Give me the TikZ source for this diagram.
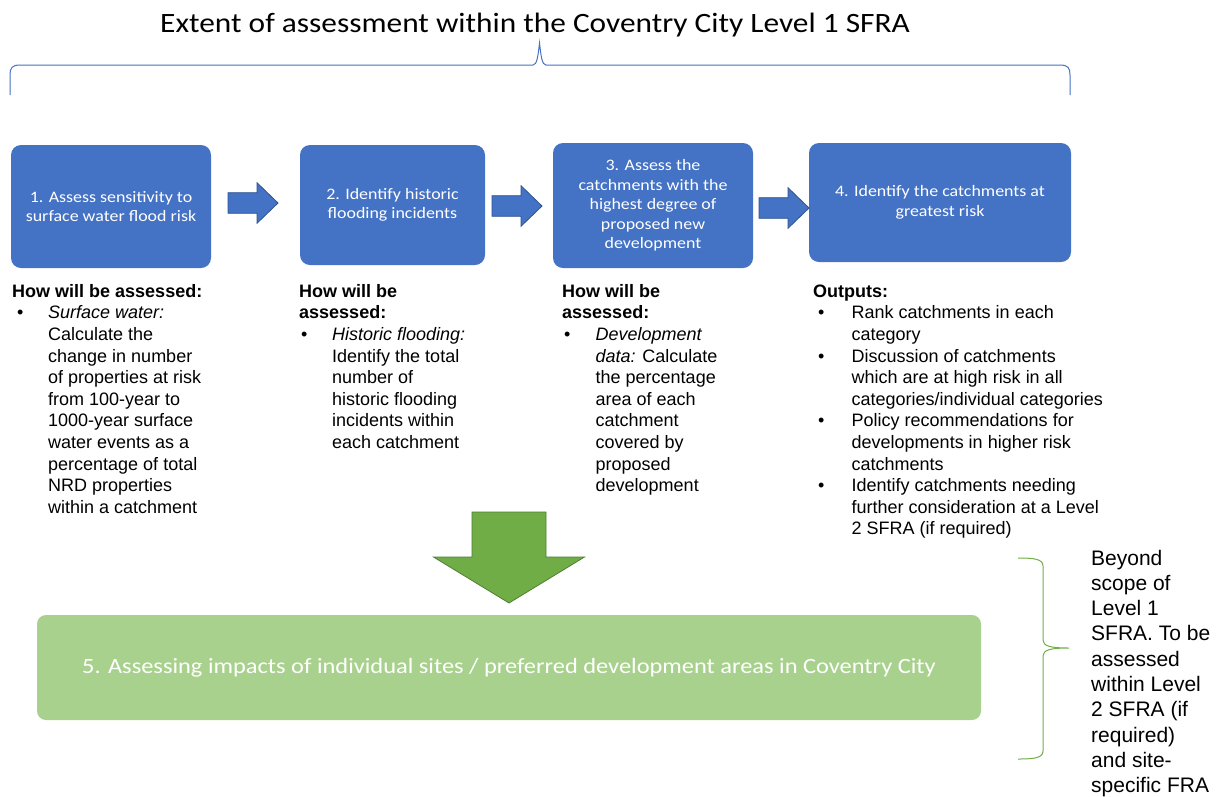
\documentclass[tikz,border=0pt]{standalone}
\usepackage{fontspec}
\newfontfamily\carlito[FakeStretch=1.12]{Carlito}
\newfontfamily\arialf{Liberation Sans}
\usepackage{array}
\definecolor{boxblue}{HTML}{4472C4}
\definecolor{arrowedge}{HTML}{2F528F}
\definecolor{arrowgreen}{HTML}{70AD47}
\definecolor{arrowgreenedge}{HTML}{507E32}
\definecolor{boxgreen}{HTML}{A9D18E}
\newcommand{\lns}[1]{\begin{tabular}[t]{@{}l@{}}#1\end{tabular}}
\tikzset{
  bluebox/.style={rounded corners=10pt, fill=boxblue, text=white, align=center, inner sep=0pt,
    font=\carlito\fontsize{16}{19.5}\selectfont},
  greenbox/.style={rounded corners=9pt, fill=boxgreen, text=white, align=center, inner sep=0pt,
    font=\carlito\fontsize{21.8}{26}\selectfont},
  bodytext/.style={anchor=base west, inner sep=0pt, font=\arialf\fontsize{18}{21.6}\selectfont},
  sidetext/.style={anchor=base west, inner sep=0pt, font=\arialf\fontsize{21}{25.3}\selectfont},
  arrowfill/.style={fill=boxblue, draw=arrowedge, line width=0.8pt, line join=miter},
  greenarrow/.style={fill=arrowgreen, draw=arrowgreenedge, line width=0.8pt},
  bluebrace/.style={draw=boxblue, line width=1pt},
  greenbrace/.style={draw=arrowgreen, line width=1pt},
  rarrow/.pic={\path[arrowfill] (0,-10.3) -- (29,-10.3) -- (29,-20.3) -- (50,0) -- (29,20.3) -- (29,10.3) -- (0,10.3) -- cycle;}
}
\begin{document}
\begin{tikzpicture}[x=1pt,y=-1pt]
\useasboundingbox (0,0) rectangle (1229,796);

% title
\node[font=\carlito\fontsize{28}{32}\selectfont, inner sep=0pt] (title) at (535,25) {Extent of assessment within the Coventry City Level 1 SFRA};

% top brace
\draw[bluebrace] (10,95) -- (10,75) .. controls (10,68) and (12,65) .. (20,65) -- (533,65)
  .. controls (537,65) and (538,56) .. (539.5,43) .. controls (541,56) and (542,65) .. (546,65)
  -- (1060,65) .. controls (1068,65) and (1070,68) .. (1070,75) -- (1070,95);

% boxes
\node[bluebox, minimum width=200pt, minimum height=123pt] (b1) at (111,206.5) {1. Assess sensitivity to\\surface water flood risk};
\node[bluebox, minimum width=185pt, minimum height=120pt] (b2) at (392.5,205) {2. Identify historic\\flooding incidents};
\node[bluebox, minimum width=200pt, minimum height=125pt] (b3) at (653,205.5) {3. Assess the\\catchments with the\\highest degree of\\proposed new\\development};
\node[bluebox, minimum width=262pt, minimum height=119pt] (b4) at (940,202.5) {4. Identify the catchments at\\greatest risk};

% block arrows
\pic at (228,203) {rarrow};
\pic at (492,206) {rarrow};
\pic at (759,208) {rarrow};

% column 1
\node[bodytext] (h1) at (12,297.3) {\textbf{How will be assessed:}};
\node[bodytext] (u1) at (17,318.9) {\textbullet};
\node[bodytext] (t1) at (48,318.9) {\lns{\textit{Surface water:}\\Calculate the\\change in number\\of properties at risk\\from 100-year to\\1000-year surface\\water events as a\\percentage of total\\NRD properties\\within a catchment}};

% column 2
\node[bodytext] (h2) at (299,297.3) {\lns{\textbf{How will be}\\\textbf{assessed:}}};
\node[bodytext] (u2) at (301,340.5) {\textbullet};
\node[bodytext] (t2) at (332,340.5) {\lns{\textit{Historic flooding:}\\Identify the total\\number of\\historic flooding\\incidents within\\each catchment}};

% column 3
\node[bodytext] (h3) at (562,297.3) {\lns{\textbf{How will be}\\\textbf{assessed:}}};
\node[bodytext] (u3) at (564,340.5) {\textbullet};
\node[bodytext] (t3) at (595.5,340.5) {\lns{\textit{Development}\\\textit{data:} Calculate\\the percentage\\area of each\\catchment\\covered by\\proposed\\development}};

% column 4
\node[bodytext] (h4) at (813,297.3) {\textbf{Outputs:}};
\node[bodytext] (t4) at (851.5,318.9) {\lns{Rank catchments in each\\category\\Discussion of catchments\\which are at high risk in all\\categories/individual categories\\Policy recommendations for\\developments in higher risk\\catchments\\Identify catchments needing\\further consideration at a Level\\2 SFRA (if required)}};
\node[bodytext] (u4a) at (818,318.9) {\textbullet};
\node[bodytext] (u4b) at (818,362.1) {\textbullet};
\node[bodytext] (u4c) at (818,426.9) {\textbullet};
\node[bodytext] (u4d) at (818,491.7) {\textbullet};

% green down arrow
\path[greenarrow] (472,512) -- (546,512) -- (546,557) -- (584.5,557) -- (509,603) -- (433.5,557) -- (472,557) -- cycle;

% green box
\node[greenbox, minimum width=944pt, minimum height=105pt] (b5) at (509,667.5) {5. Assessing impacts of individual sites / preferred development areas in Coventry City};

% right brace
\draw[greenbrace] (1018,558) .. controls (1034,558) and (1043,559) .. (1043,566) -- (1043,640)
  .. controls (1043,646) and (1050,648) .. (1069,648) .. controls (1050,648) and (1043,650) .. (1043,656)
  -- (1043,751) .. controls (1043,758) and (1034,759) .. (1018,759);

\node[sidetext] (side) at (1091,565) {\lns{Beyond\\scope of\\Level 1\\SFRA. To be\\assessed\\within Level\\2 SFRA (if\\required)\\and site-\\specific FRA}};
\end{tikzpicture}
\end{document}
